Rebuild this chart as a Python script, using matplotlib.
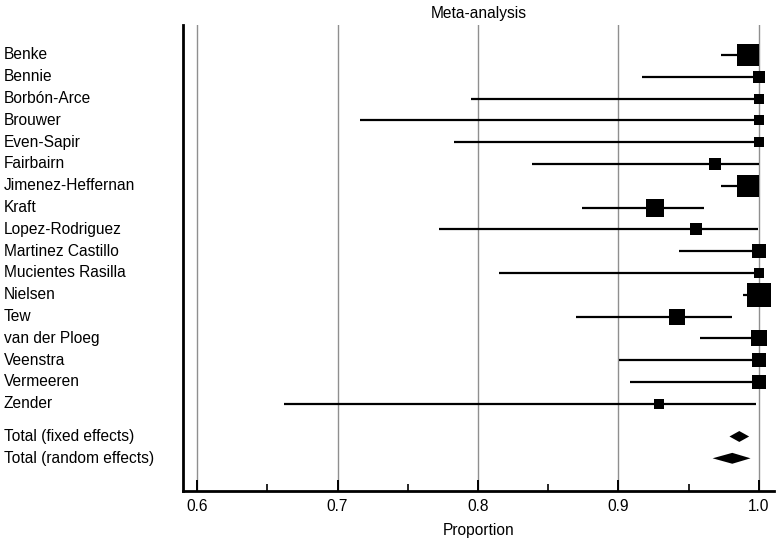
import matplotlib
matplotlib.use('Agg')
import matplotlib.pyplot as plt
from matplotlib.patches import Polygon
from matplotlib.transforms import blended_transform_factory
import numpy as np

plt.rcParams['font.family'] = ['Liberation Sans', 'DejaVu Sans']

# study data (proportion, 95% CI, weight %)
studies = ['Benke', 'Bennie', 'Borbón-Arce', 'Brouwer', 'Even-Sapir', 'Fairbairn',
           'Jimenez-Heffernan', 'Kraft', 'Lopez-Rodriguez', 'Martinez Castillo',
           'Mucientes Rasilla', 'Nielsen', 'Tew', 'van der Ploeg', 'Veenstra',
           'Vermeeren', 'Zender']
prop = [0.992, 1.000, 1.000, 1.000, 1.000, 0.969, 0.9925, 0.926, 0.955, 1.000,
        1.000, 1.000, 0.942, 1.000, 1.000, 1.000, 0.929]
ci_low = [0.973, 0.917, 0.795, 0.716, 0.783, 0.8385, 0.973, 0.874, 0.772, 0.943,
          0.815, 0.9886, 0.870, 0.958, 0.9004, 0.908, 0.6616]
ci_high = [1.000, 1.000, 1.000, 1.000, 1.000, 1.000, 1.000, 0.9607, 0.999, 1.000,
           1.000, 1.000, 0.981, 1.000, 1.000, 1.000, 0.998]
weight = [11.8, 4.1, 2.7, 2.7, 2.7, 3.7, 12.9, 8.8, 3.2, 5.2,
          2.4, 14.6, 6.2, 5.9, 4.2, 4.4, 2.2]

totals = ['Total (fixed effects)', 'Total (random effects)']
total_prop = [0.986, 0.981]
total_low = [0.979, 0.967]
total_high = [0.993, 0.994]

fs = 11.2

fig = plt.figure(figsize=(7.84, 5.41), dpi=100)
ax = fig.add_axes([183/784, 1 - 491/541, (774-183)/784, (491-25)/541])

n = len(studies)
ys = np.arange(n)
ty = [n + 0.5, n + 1.5]

ax.set_xlim(0.59, 1.0107)
ax.set_ylim(20.0, -1.375)

for x in [0.6, 0.7, 0.8, 0.9, 1.0]:
    ax.axvline(x, color='#8f8f8f', lw=1.0, zorder=1)

for i in range(n):
    ax.plot([ci_low[i], ci_high[i]], [ys[i], ys[i]], color='black', lw=1.6,
            solid_capstyle='butt', zorder=2)
    side = 0.72 * np.sqrt(41 * weight[i])
    ax.plot(prop[i], ys[i], marker='s', ms=side, color='black', mew=0,
            linestyle='none', zorder=3)

for j in range(2):
    h = 0.25
    pts = [(total_low[j], ty[j]), (total_prop[j], ty[j] - h),
           (total_high[j], ty[j]), (total_prop[j], ty[j] + h)]
    ax.add_patch(Polygon(pts, closed=True, color='black', lw=0, zorder=3))

# labels at left edge of figure
tr = blended_transform_factory(fig.transFigure, ax.transData)
for i in range(n):
    fig.text(4/784, ys[i], studies[i], transform=tr, ha='left', va='center', fontsize=fs)
for j in range(2):
    fig.text(4/784, ty[j], totals[j], transform=tr, ha='left', va='center', fontsize=fs)

ax.set_yticks([])
for s in ['top', 'right']:
    ax.spines[s].set_visible(False)
ax.spines['left'].set_linewidth(2.0)
ax.spines['bottom'].set_linewidth(2.0)

ax.set_xticks([0.6, 0.7, 0.8, 0.9, 1.0])
ax.set_xticklabels(['0.6', '0.7', '0.8', '0.9', '1.0'], fontsize=fs)
ax.set_xticks([0.65, 0.75, 0.85, 0.95], minor=True)
ax.tick_params(axis='x', which='major', direction='in', length=8, width=1.4, pad=6)
ax.tick_params(axis='x', which='minor', direction='in', length=5, width=1.2)
ax.set_xlabel('Proportion', fontsize=fs, labelpad=6)
ax.set_title('Meta-analysis', fontsize=fs, pad=5)

fig.savefig('out.png', dpi=100)
